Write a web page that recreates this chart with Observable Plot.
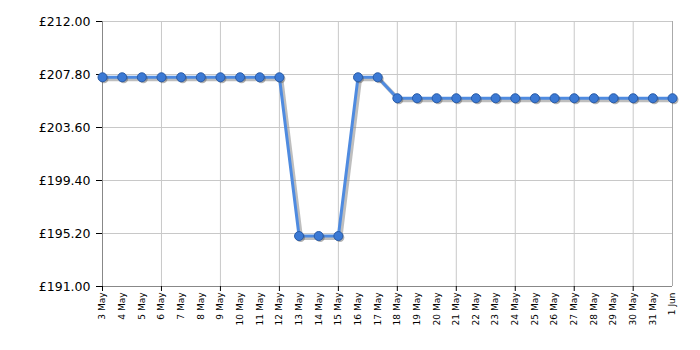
<!DOCTYPE html>
<html><head><meta charset="utf-8">
<script src="https://cdn.jsdelivr.net/npm/d3@7"></script>
<script src="https://cdn.jsdelivr.net/npm/@observablehq/plot@0.6"></script>
<style>body{margin:0;background:#fff}</style>
</head><body><div id="chart"></div>
<script>
const dayLabels = ["3 May","4 May","5 May","6 May","7 May","8 May","9 May","10 May","11 May","12 May","13 May","14 May","15 May","16 May","17 May","18 May","19 May","20 May","21 May","22 May","23 May","24 May","25 May","26 May","27 May","28 May","29 May","30 May","31 May","1 Jun"];
const prices = [207.58,207.58,207.58,207.58,207.58,207.58,207.58,207.58,207.58,207.58,195.0,195.0,195.0,207.58,207.58,205.92,205.92,205.92,205.92,205.92,205.92,205.92,205.92,205.92,205.92,205.92,205.92,205.92,205.92,205.92];
const yTicks = [191, 195.2, 199.4, 203.6, 207.8, 212];

const start = Date.UTC(2023, 4, 3);
const data = dayLabels.map((label, i) => ({date: new Date(start + i * 86400000), label, price: prices[i]}));
const allDates = data.map(d => d.date);
const gridDates = allDates.filter((d, i) => i % 3 === 0);
const labelOf = new Map(data.map(d => [+d.date, d.label]));

const chart = Plot.plot({
  width: 700, height: 350,
  marginLeft: 102, marginTop: 21, marginRight: 28, marginBottom: 64,
  style: {fontFamily: "DejaVu Sans, Verdana, sans-serif", background: "#fff"},
  x: {type: "utc", domain: [allDates[0], allDates[allDates.length - 1]]},
  y: {domain: [191, 212]},
  marks: [
    Plot.gridY(yTicks, {stroke: "#c8c8c8", strokeOpacity: 1}),
    Plot.gridX(gridDates, {stroke: "#c8c8c8", strokeOpacity: 1}),
    Plot.ruleX([allDates[allDates.length - 1]], {stroke: "#aaa"}),
    Plot.ruleX([allDates[0]], {stroke: "#888"}),
    Plot.ruleY([191], {stroke: "#888"}),
    Plot.axisY({ticks: yTicks, tickFormat: d => "£" + d.toFixed(2), tickSize: 6, tickPadding: 6, fontSize: 12.5, label: null, stroke: "#000", fill: "#000"}),
    Plot.axisX({ticks: gridDates, tickSize: 5, tickFormat: () => "", label: null, stroke: "#000"}),
    Plot.axisX({ticks: allDates, tickSize: 0, tickPadding: 6, tickRotate: -90, tickFormat: d => labelOf.get(+d), fontSize: 9, label: null, fill: "#000"}),
    Plot.line(data, {x: "date", y: "price", stroke: "#888", strokeOpacity: 0.55, strokeWidth: 4, dx: 2, dy: 2}),
    Plot.line(data, {x: "date", y: "price", stroke: "#4f8be0", strokeWidth: 3}),
    Plot.dot(data, {x: "date", y: "price", r: 4.5, fill: "#555", fillOpacity: 0.45, dx: 1.5, dy: 1.5}),
    Plot.dot(data, {x: "date", y: "price", r: 4.5, fill: "#3b79d4", stroke: "#2a5ca8", strokeWidth: 1})
  ]
});
document.getElementById("chart").append(chart);
</script>
</body></html>
